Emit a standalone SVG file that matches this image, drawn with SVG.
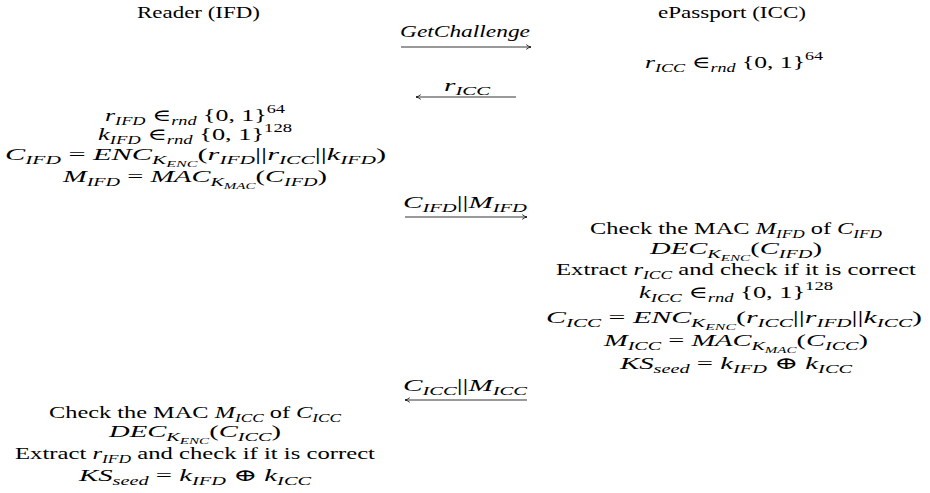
<svg xmlns="http://www.w3.org/2000/svg" width="930" height="493" viewBox="0 0 930 493">
<style>
text{font-family:"Liberation Serif","DejaVu Serif","Noto Serif","Times New Roman",serif;font-size:17px;fill:#000}
.i{font-style:italic}
.s{font-size:12px}
.ss{font-size:9px}
.arr{stroke:#000;stroke-width:0.8;fill:none}
</style>
<defs>
<marker id="ah" viewBox="0 0 10 10" refX="10" refY="5" markerWidth="6" markerHeight="6" markerUnits="userSpaceOnUse" orient="auto">
<path d="M2,1 Q6,4.2 10,5 Q6,5.8 2,9" stroke="#000" stroke-width="1.3" fill="none"/>
</marker>
</defs>
<rect width="930" height="493" fill="#fff"/>
<g font-family="Liberation Serif, DejaVu Serif, serif">
<g id="title-reader"><text x="137" y="18" textLength="123" lengthAdjust="spacingAndGlyphs">Reader (IFD)</text></g>
<g id="title-epassport"><text x="658" y="18" textLength="148" lengthAdjust="spacingAndGlyphs">ePassport (ICC)</text></g>
<g id="icc-step1">
<text x="645" y="68" textLength="178" lengthAdjust="spacingAndGlyphs"><tspan class="i">r</tspan><tspan class="s i" dy="4">ICC</tspan><tspan dy="-4"> ∈</tspan><tspan class="s i" dy="4">rnd</tspan><tspan dy="-4"> {0, 1}</tspan><tspan class="s" dy="-8">64</tspan></text>
</g>
<g id="ifd-step1">
<text x="105" y="121" textLength="180" lengthAdjust="spacingAndGlyphs"><tspan class="i">r</tspan><tspan class="s i" dy="4">IFD</tspan><tspan dy="-4"> ∈</tspan><tspan class="s i" dy="4">rnd</tspan><tspan dy="-4"> {0, 1}</tspan><tspan class="s" dy="-8">64</tspan></text>
<text x="98" y="140" textLength="194" lengthAdjust="spacingAndGlyphs"><tspan class="i">k</tspan><tspan class="s i" dy="4">IFD</tspan><tspan dy="-4"> ∈</tspan><tspan class="s i" dy="4">rnd</tspan><tspan dy="-4"> {0, 1}</tspan><tspan class="s" dy="-8">128</tspan></text>
<text x="5" y="160" textLength="381" lengthAdjust="spacingAndGlyphs"><tspan class="i">C</tspan><tspan class="s i" dy="4">IFD</tspan><tspan dy="-4"> = </tspan><tspan class="i">ENC</tspan><tspan class="s i" dy="4">K</tspan><tspan class="ss i" dy="3">ENC</tspan><tspan dy="-7">(</tspan><tspan class="i">r</tspan><tspan class="s i" dy="4">IFD</tspan><tspan dy="-4">||</tspan><tspan class="i">r</tspan><tspan class="s i" dy="4">ICC</tspan><tspan dy="-4">||</tspan><tspan class="i">k</tspan><tspan class="s i" dy="4">IFD</tspan><tspan dy="-4">)</tspan></text>
<text x="63" y="182" textLength="264" lengthAdjust="spacingAndGlyphs"><tspan class="i">M</tspan><tspan class="s i" dy="4">IFD</tspan><tspan dy="-4"> = </tspan><tspan class="i">MAC</tspan><tspan class="s i" dy="4">K</tspan><tspan class="ss i" dy="3">MAC</tspan><tspan dy="-7">(</tspan><tspan class="i">C</tspan><tspan class="s i" dy="4">IFD</tspan><tspan dy="-4">)</tspan></text>
</g>
<g id="icc-step2">
<text x="590" y="234" textLength="292" lengthAdjust="spacingAndGlyphs">Check the MAC <tspan class="i">M</tspan><tspan class="s i" dy="4">IFD</tspan><tspan dy="-4"> of </tspan><tspan class="i">C</tspan><tspan class="s i" dy="4">IFD</tspan></text>
<text x="650" y="254" textLength="172" lengthAdjust="spacingAndGlyphs"><tspan class="i">DEC</tspan><tspan class="s i" dy="4">K</tspan><tspan class="ss i" dy="3">ENC</tspan><tspan dy="-7">(</tspan><tspan class="i">C</tspan><tspan class="s i" dy="4">IFD</tspan><tspan dy="-4">)</tspan></text>
<text x="556" y="275" textLength="360" lengthAdjust="spacingAndGlyphs">Extract <tspan class="i">r</tspan><tspan class="s i" dy="4">ICC</tspan><tspan dy="-4"> and check if it is correct</tspan></text>
<text x="639" y="298" textLength="194" lengthAdjust="spacingAndGlyphs"><tspan class="i">k</tspan><tspan class="s i" dy="4">ICC</tspan><tspan dy="-4"> ∈</tspan><tspan class="s i" dy="4">rnd</tspan><tspan dy="-4"> {0, 1}</tspan><tspan class="s" dy="-8">128</tspan></text>
<text x="546" y="323" textLength="376" lengthAdjust="spacingAndGlyphs"><tspan class="i">C</tspan><tspan class="s i" dy="4">ICC</tspan><tspan dy="-4"> = </tspan><tspan class="i">ENC</tspan><tspan class="s i" dy="4">K</tspan><tspan class="ss i" dy="3">ENC</tspan><tspan dy="-7">(</tspan><tspan class="i">r</tspan><tspan class="s i" dy="4">ICC</tspan><tspan dy="-4">||</tspan><tspan class="i">r</tspan><tspan class="s i" dy="4">IFD</tspan><tspan dy="-4">||</tspan><tspan class="i">k</tspan><tspan class="s i" dy="4">ICC</tspan><tspan dy="-4">)</tspan></text>
<text x="604" y="346" textLength="264" lengthAdjust="spacingAndGlyphs"><tspan class="i">M</tspan><tspan class="s i" dy="4">ICC</tspan><tspan dy="-4"> = </tspan><tspan class="i">MAC</tspan><tspan class="s i" dy="4">K</tspan><tspan class="ss i" dy="3">MAC</tspan><tspan dy="-7">(</tspan><tspan class="i">C</tspan><tspan class="s i" dy="4">ICC</tspan><tspan dy="-4">)</tspan></text>
<text x="620" y="369" textLength="232" lengthAdjust="spacingAndGlyphs"><tspan class="i">KS</tspan><tspan class="s i" dy="4">seed</tspan><tspan dy="-4"> = </tspan><tspan class="i">k</tspan><tspan class="s i" dy="4">IFD</tspan><tspan dy="-4"> ⊕ </tspan><tspan class="i">k</tspan><tspan class="s i" dy="4">ICC</tspan></text>
</g>
<g id="ifd-step2">
<text x="49" y="418" textLength="292" lengthAdjust="spacingAndGlyphs">Check the MAC <tspan class="i">M</tspan><tspan class="s i" dy="4">ICC</tspan><tspan dy="-4"> of </tspan><tspan class="i">C</tspan><tspan class="s i" dy="4">ICC</tspan></text>
<text x="109" y="437" textLength="172" lengthAdjust="spacingAndGlyphs"><tspan class="i">DEC</tspan><tspan class="s i" dy="4">K</tspan><tspan class="ss i" dy="3">ENC</tspan><tspan dy="-7">(</tspan><tspan class="i">C</tspan><tspan class="s i" dy="4">ICC</tspan><tspan dy="-4">)</tspan></text>
<text x="15" y="459" textLength="360" lengthAdjust="spacingAndGlyphs">Extract <tspan class="i">r</tspan><tspan class="s i" dy="4">IFD</tspan><tspan dy="-4"> and check if it is correct</tspan></text>
<text x="79" y="481" textLength="232" lengthAdjust="spacingAndGlyphs"><tspan class="i">KS</tspan><tspan class="s i" dy="4">seed</tspan><tspan dy="-4"> = </tspan><tspan class="i">k</tspan><tspan class="s i" dy="4">IFD</tspan><tspan dy="-4"> ⊕ </tspan><tspan class="i">k</tspan><tspan class="s i" dy="4">ICC</tspan></text>
</g>
<g id="connectors">
<line class="arr" x1="401" y1="47" x2="531" y2="47" marker-end="url(#ah)"/>
<line class="arr" x1="516" y1="97" x2="416" y2="97" marker-end="url(#ah)"/>
<line class="arr" x1="405" y1="217" x2="527" y2="217" marker-end="url(#ah)"/>
<line class="arr" x1="527" y1="400" x2="405" y2="400" marker-end="url(#ah)"/>
</g>
<g id="connector-labels">
<text class="i" x="400" y="37" textLength="130" lengthAdjust="spacingAndGlyphs">GetChallenge</text>
<text x="444" y="91" textLength="46" lengthAdjust="spacingAndGlyphs"><tspan class="i">r</tspan><tspan class="s i" dy="4">ICC</tspan></text>
<text x="403" y="208" textLength="124" lengthAdjust="spacingAndGlyphs"><tspan class="i">C</tspan><tspan class="s i" dy="4">IFD</tspan><tspan dy="-4">||</tspan><tspan class="i">M</tspan><tspan class="s i" dy="4">IFD</tspan></text>
<text x="403" y="391" textLength="124" lengthAdjust="spacingAndGlyphs"><tspan class="i">C</tspan><tspan class="s i" dy="4">ICC</tspan><tspan dy="-4">||</tspan><tspan class="i">M</tspan><tspan class="s i" dy="4">ICC</tspan></text>
</g>
</g>
</svg>
